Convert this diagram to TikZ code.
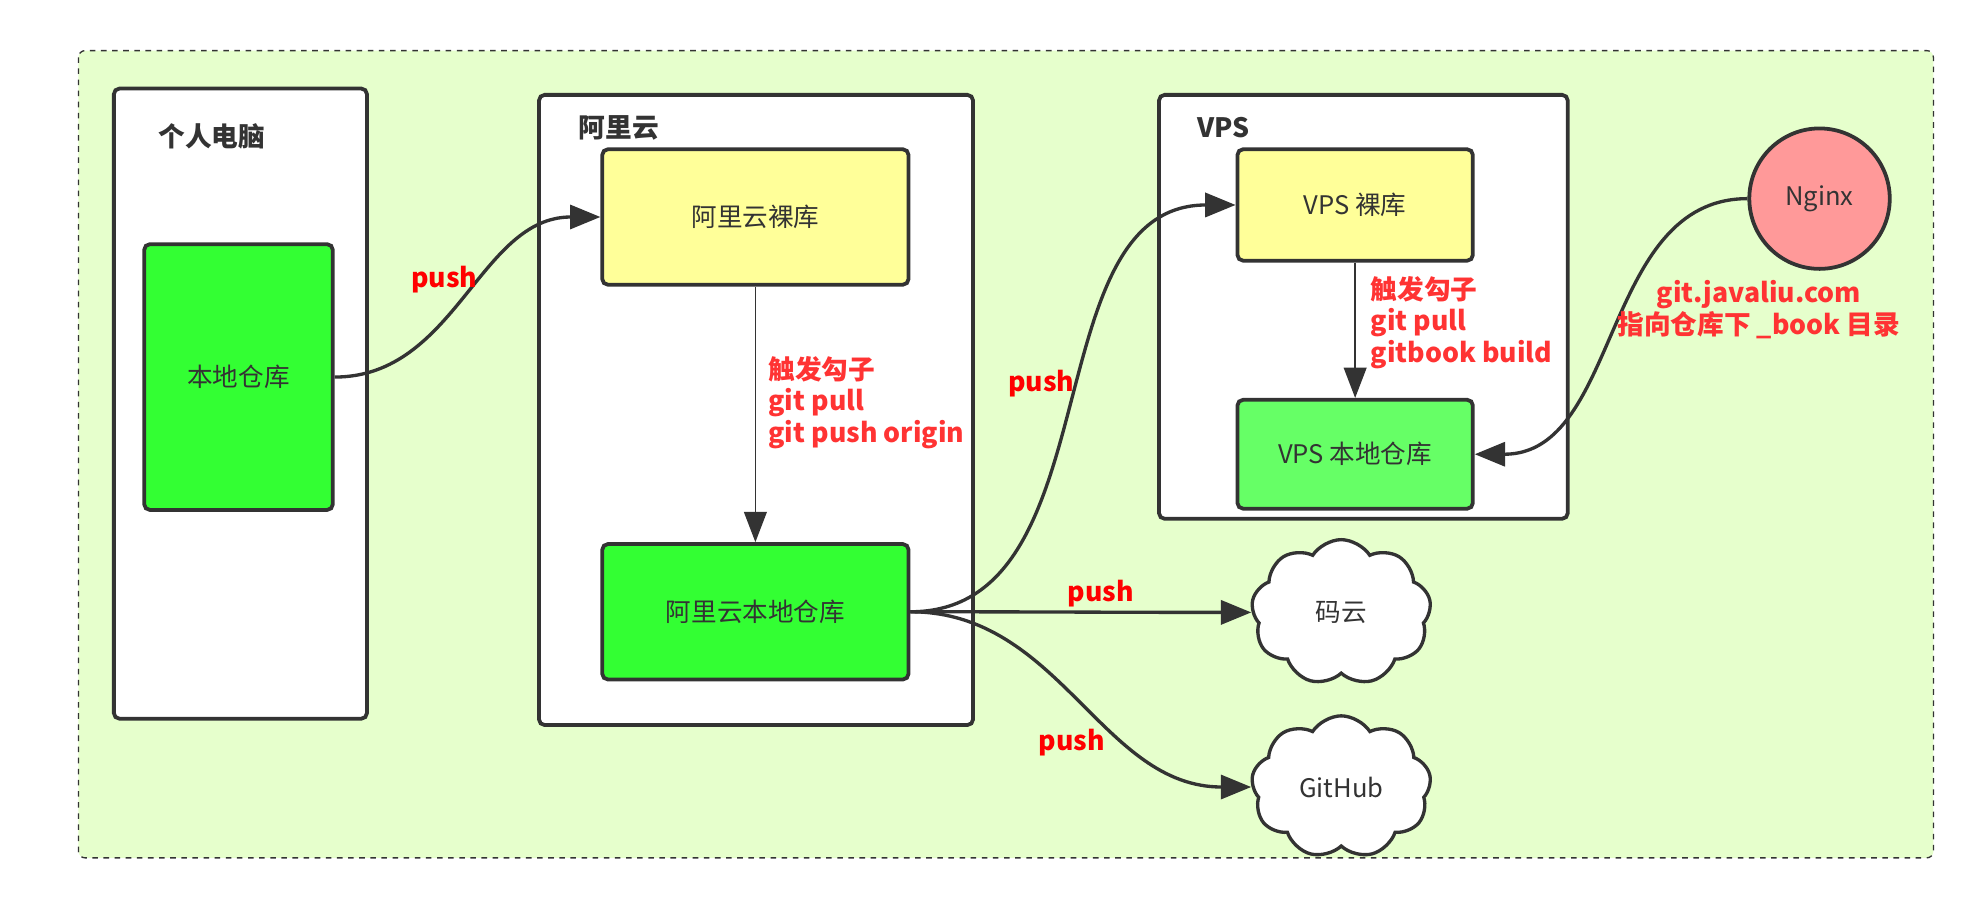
\documentclass[tikz,border=0pt]{standalone}
\usepackage{fontspec}
\setmainfont{Noto Sans CJK SC}
\usetikzlibrary{arrows.meta,shapes.symbols}
\definecolor{dark}{HTML}{333333}
\definecolor{bg}{HTML}{E6FFCC}
\definecolor{gitgreen}{HTML}{33FF33}
\definecolor{vpsgreen}{HTML}{66FF66}
\definecolor{bareyellow}{HTML}{FFFF99}
\definecolor{nginxred}{HTML}{FF9999}
\definecolor{hookred}{HTML}{FF3333}
\tikzset{
	frame/.style={draw=dark, line width=1.7pt, fill=white, rounded corners=2.5pt},
	title/.style={anchor=west, inner sep=0pt, text=dark, font=\fontsize{12}{14}\selectfont\bfseries},
	repo/.style={draw=dark, line width=1.7pt, rounded corners=2.5pt, text=dark, inner sep=0pt, font=\fontsize{11.5}{14}\selectfont},
	remote/.style={cloud, cloud puffs=9, cloud puff arc=115, aspect=1.2, draw=dark, line width=1.5pt, fill=white, text=dark, inner sep=0pt, font=\fontsize{11.5}{14}\selectfont},
	pushline/.style={draw=dark, line width=1.5pt, -{Triangle[length=0.48cm,width=0.38cm]}},
	hookline/.style={draw=dark, line width=0.8pt, -{Triangle[length=0.48cm,width=0.36cm]}},
	lbl/.style={text=red, font=\fontsize{12}{14.2}\selectfont\bfseries},
	hooklbl/.style={text=hookred, align=left, anchor=west, inner sep=0pt, font=\fontsize{12}{14.2}\selectfont\bfseries}
}

\begin{document}
\begin{tikzpicture}
	%%%%% START %%%%%
	
	\useasboundingbox (0, 0) rectangle (31.36, -14.36);
	
	\draw[dark, line width=0.6pt, dash pattern=on 2.5pt off 2.5pt, fill=bg, rounded corners=3pt] (1.24, -0.8) rectangle (30.56, -13.56);
	
	\draw[frame] (1.8, -1.4) rectangle (5.8, -11.36);
	\draw[frame] (8.52, -1.5) rectangle (15.38, -11.46);
	\draw[frame] (18.32, -1.5) rectangle (24.78, -8.2);
	
	\node[title] (pctitle) at (2.5, -2.16) {个人电脑};
	\node[title] (alititle) at (9.14, -2.02) {阿里云};
	\node[title] (vpstitle) at (18.92, -2.02) {VPS};
	
	\node[repo, fill=gitgreen, minimum width=2.98cm, minimum height=4.2cm] (local) at (3.77, -5.96) {本地仓库};
	\node[repo, fill=bareyellow, minimum width=4.84cm, minimum height=2.14cm] (alibare) at (11.94, -3.43) {阿里云裸库};
	\node[repo, fill=gitgreen, minimum width=4.84cm, minimum height=2.14cm] (alilocal) at (11.94, -9.67) {阿里云本地仓库};
	\node[repo, fill=bareyellow, minimum width=3.72cm, minimum height=1.76cm] (vpsbare) at (21.42, -3.24) {VPS 裸库};
	\node[repo, fill=vpsgreen, minimum width=3.72cm, minimum height=1.72cm] (vpslocal) at (21.42, -7.18) {VPS 本地仓库};
	
	\node[circle, draw=dark, line width=1.7pt, fill=nginxred, text=dark, minimum size=2.22cm, inner sep=0pt, font=\fontsize{11.5}{14}\selectfont] (nginx) at (28.76, -3.14) {Nginx};
	
	\node[remote, minimum width=2.84cm, minimum height=2.3cm] (gitee) at (21.2, -9.68) {码云};
	\node[remote, minimum width=2.84cm, minimum height=2.25cm] (github) at (21.2, -12.44) {GitHub};
	
	\draw[pushline] (local.east) to[out=0, in=180] (alibare.west);
	\draw[hookline] (alibare.south) -- (alilocal.north);
	\draw[pushline] (alilocal.east) to[out=0, in=180] (vpsbare.west);
	\draw[pushline] (alilocal.east) to[out=0, in=180] (gitee.west);
	\draw[pushline] (alilocal.east) to[out=0, in=180] (github.west);
	\draw[hookline] (vpsbare.south) -- (vpslocal.north);
	\draw[pushline] (nginx.west) to[out=180, in=0] (vpslocal.east);
	
	\node[lbl] (push1) at (7.02, -4.42) {push};
	\node[lbl] (push2) at (16.46, -6.06) {push};
	\node[lbl] (push3) at (17.4, -9.39) {push};
	\node[lbl] (push4) at (16.94, -11.73) {push};
	
	\node[hooklbl] (alihook) at (12.14, -6.36) {触发勾子\\git pull\\git push origin};
	\node[hooklbl] (vpshook) at (21.66, -5.1) {触发勾子\\git pull\\gitbook build};
	\node[hooklbl, anchor=center, align=center] (domain) at (27.8, -4.89) {git.javaliu.com\\指向仓库下 \_book 目录};
	
	%%%%% END %%%%%
\end{tikzpicture}
\end{document}
